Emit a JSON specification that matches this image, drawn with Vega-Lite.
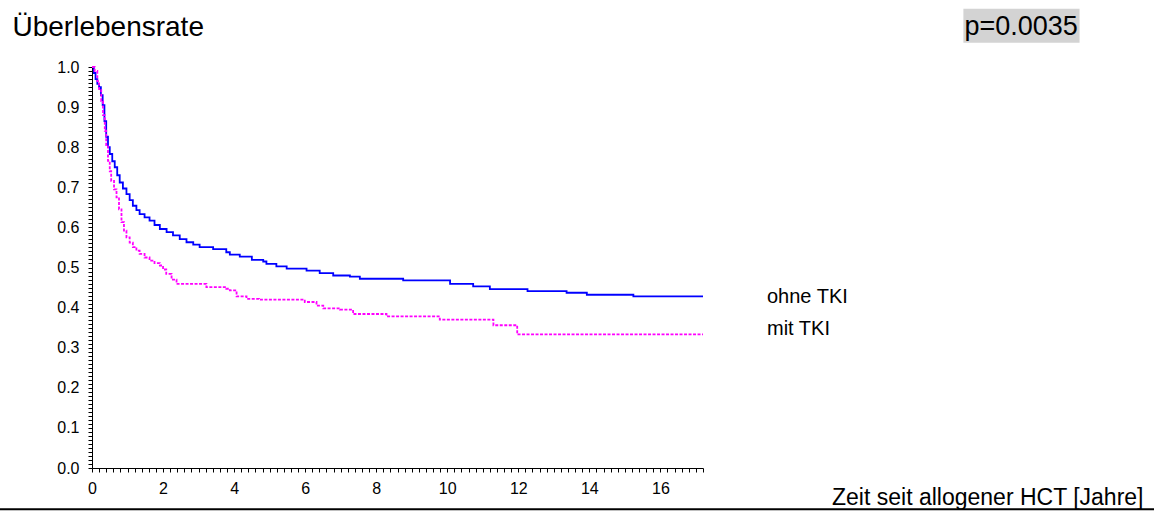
{
  "$schema": "https://vega.github.io/schema/vega-lite/v6.json",
  "width": 611,
  "height": 401,
  "autosize": {"type": "none"},
  "padding": {"left": 92, "top": 67, "right": 451, "bottom": 43},
  "background": "white",
  "config": {
    "font": "Liberation Sans",
    "view": {"stroke": null},
    "axis": {"grid": false, "domainColor": "black", "tickColor": "black", "labelColor": "black", "titleColor": "black", "labelFont": "Liberation Sans", "titleFont": "Liberation Sans", "titleFontWeight": "normal"}
  },
  "datasets": {
    "km": [
      {"g": "ohne TKI", "t": 0, "s": 1.0},
      {"g": "ohne TKI", "t": 0.05, "s": 0.985},
      {"g": "ohne TKI", "t": 0.1, "s": 0.97},
      {"g": "ohne TKI", "t": 0.15, "s": 0.958},
      {"g": "ohne TKI", "t": 0.2, "s": 0.95},
      {"g": "ohne TKI", "t": 0.25, "s": 0.93},
      {"g": "ohne TKI", "t": 0.3, "s": 0.905},
      {"g": "ohne TKI", "t": 0.35, "s": 0.865},
      {"g": "ohne TKI", "t": 0.4, "s": 0.826},
      {"g": "ohne TKI", "t": 0.45, "s": 0.8},
      {"g": "ohne TKI", "t": 0.5, "s": 0.783},
      {"g": "ohne TKI", "t": 0.57, "s": 0.765},
      {"g": "ohne TKI", "t": 0.64, "s": 0.75},
      {"g": "ohne TKI", "t": 0.71, "s": 0.73},
      {"g": "ohne TKI", "t": 0.78, "s": 0.712},
      {"g": "ohne TKI", "t": 0.87, "s": 0.697},
      {"g": "ohne TKI", "t": 0.97, "s": 0.683},
      {"g": "ohne TKI", "t": 1.06, "s": 0.668},
      {"g": "ohne TKI", "t": 1.15, "s": 0.654},
      {"g": "ohne TKI", "t": 1.25, "s": 0.643},
      {"g": "ohne TKI", "t": 1.34, "s": 0.633},
      {"g": "ohne TKI", "t": 1.48, "s": 0.625},
      {"g": "ohne TKI", "t": 1.62, "s": 0.617},
      {"g": "ohne TKI", "t": 1.76, "s": 0.606},
      {"g": "ohne TKI", "t": 1.91, "s": 0.596},
      {"g": "ohne TKI", "t": 2.1, "s": 0.588},
      {"g": "ohne TKI", "t": 2.28, "s": 0.58},
      {"g": "ohne TKI", "t": 2.47, "s": 0.571},
      {"g": "ohne TKI", "t": 2.66, "s": 0.563},
      {"g": "ohne TKI", "t": 2.85, "s": 0.557},
      {"g": "ohne TKI", "t": 3.03, "s": 0.551},
      {"g": "ohne TKI", "t": 3.41, "s": 0.546},
      {"g": "ohne TKI", "t": 3.78, "s": 0.538},
      {"g": "ohne TKI", "t": 3.88, "s": 0.532},
      {"g": "ohne TKI", "t": 4.16, "s": 0.527},
      {"g": "ohne TKI", "t": 4.5, "s": 0.519},
      {"g": "ohne TKI", "t": 4.82, "s": 0.515},
      {"g": "ohne TKI", "t": 4.91, "s": 0.509},
      {"g": "ohne TKI", "t": 5.19, "s": 0.503},
      {"g": "ohne TKI", "t": 5.48, "s": 0.497},
      {"g": "ohne TKI", "t": 6.04, "s": 0.492},
      {"g": "ohne TKI", "t": 6.41, "s": 0.486},
      {"g": "ohne TKI", "t": 6.79, "s": 0.48},
      {"g": "ohne TKI", "t": 7.26, "s": 0.477},
      {"g": "ohne TKI", "t": 7.54, "s": 0.472},
      {"g": "ohne TKI", "t": 8.76, "s": 0.468},
      {"g": "ohne TKI", "t": 10.08, "s": 0.459},
      {"g": "ohne TKI", "t": 10.73, "s": 0.453},
      {"g": "ohne TKI", "t": 11.2, "s": 0.446},
      {"g": "ohne TKI", "t": 12.26, "s": 0.441},
      {"g": "ohne TKI", "t": 13.36, "s": 0.437},
      {"g": "ohne TKI", "t": 13.93, "s": 0.432},
      {"g": "ohne TKI", "t": 15.24, "s": 0.428},
      {"g": "ohne TKI", "t": 17.2, "s": 0.428},
      {"g": "mit TKI", "t": 0, "s": 1.0},
      {"g": "mit TKI", "t": 0.075, "s": 0.99},
      {"g": "mit TKI", "t": 0.15, "s": 0.965},
      {"g": "mit TKI", "t": 0.2, "s": 0.945},
      {"g": "mit TKI", "t": 0.26, "s": 0.915},
      {"g": "mit TKI", "t": 0.31, "s": 0.88},
      {"g": "mit TKI", "t": 0.36, "s": 0.841},
      {"g": "mit TKI", "t": 0.4, "s": 0.805},
      {"g": "mit TKI", "t": 0.45, "s": 0.766},
      {"g": "mit TKI", "t": 0.5, "s": 0.74},
      {"g": "mit TKI", "t": 0.54, "s": 0.716},
      {"g": "mit TKI", "t": 0.62, "s": 0.695},
      {"g": "mit TKI", "t": 0.69, "s": 0.675},
      {"g": "mit TKI", "t": 0.76, "s": 0.645},
      {"g": "mit TKI", "t": 0.83, "s": 0.613},
      {"g": "mit TKI", "t": 0.9, "s": 0.592},
      {"g": "mit TKI", "t": 0.97, "s": 0.575},
      {"g": "mit TKI", "t": 1.06, "s": 0.562},
      {"g": "mit TKI", "t": 1.15, "s": 0.551},
      {"g": "mit TKI", "t": 1.25, "s": 0.542},
      {"g": "mit TKI", "t": 1.34, "s": 0.534},
      {"g": "mit TKI", "t": 1.48, "s": 0.525},
      {"g": "mit TKI", "t": 1.62, "s": 0.517},
      {"g": "mit TKI", "t": 1.76, "s": 0.511},
      {"g": "mit TKI", "t": 1.91, "s": 0.505},
      {"g": "mit TKI", "t": 2.0, "s": 0.495},
      {"g": "mit TKI", "t": 2.09, "s": 0.484},
      {"g": "mit TKI", "t": 2.24, "s": 0.47},
      {"g": "mit TKI", "t": 2.38, "s": 0.459},
      {"g": "mit TKI", "t": 3.22, "s": 0.451},
      {"g": "mit TKI", "t": 3.78, "s": 0.447},
      {"g": "mit TKI", "t": 3.88, "s": 0.443},
      {"g": "mit TKI", "t": 4.07, "s": 0.428},
      {"g": "mit TKI", "t": 4.35, "s": 0.422},
      {"g": "mit TKI", "t": 4.7, "s": 0.42},
      {"g": "mit TKI", "t": 5.99, "s": 0.414},
      {"g": "mit TKI", "t": 6.32, "s": 0.405},
      {"g": "mit TKI", "t": 6.51, "s": 0.398},
      {"g": "mit TKI", "t": 6.98, "s": 0.395},
      {"g": "mit TKI", "t": 7.35, "s": 0.384},
      {"g": "mit TKI", "t": 8.29, "s": 0.378},
      {"g": "mit TKI", "t": 9.79, "s": 0.37},
      {"g": "mit TKI", "t": 11.3, "s": 0.356},
      {"g": "mit TKI", "t": 11.97, "s": 0.333},
      {"g": "mit TKI", "t": 17.2, "s": 0.333}
    ],
    "note": [{"p": "p=0.0035"}]
  },
  "layer": [
    {
      "data": {"name": "km"},
      "mark": {"type": "line", "interpolate": "step-after", "strokeWidth": 1.8},
      "encoding": {
        "x": {
          "field": "t", "type": "quantitative",
          "scale": {"domain": [0, 17.2], "nice": false, "zero": false},
          "axis": {
            "title": "Zeit seit allogener HCT [Jahre]",
            "titleFontSize": 23,
            "titleAlign": "right",
            "titleBaseline": "alphabetic",
            "titleX": 1051,
            "titleY": 36,
            "tickCount": 200,
            "values": [0,0.2,0.4,0.6,0.8,1,1.2,1.4,1.6,1.8,2,2.2,2.4,2.6,2.8,3,3.2,3.4,3.6,3.8,4,4.2,4.4,4.6,4.8,5,5.2,5.4,5.6,5.8,6,6.2,6.4,6.6,6.8,7,7.2,7.4,7.6,7.8,8,8.2,8.4,8.6,8.8,9,9.2,9.4,9.6,9.8,10,10.2,10.4,10.6,10.8,11,11.2,11.4,11.6,11.8,12,12.2,12.4,12.6,12.8,13,13.2,13.4,13.6,13.8,14,14.2,14.4,14.6,14.8,15,15.2,15.4,15.6,15.8,16,16.2,16.4,16.6,16.8,17,17.2],
            "labelExpr": "abs(datum.value/2 - round(datum.value/2)) < 0.001 ? format(datum.value, 'd') : ''",
            "labelOverlap": false,
            "labelBound": false,
            "labelFlush": false,
            "labelFontSize": 16,
            "tickSize": 4,
            "labelPadding": 8,
            "encode": {"ticks": {"update": {"y2": {"signal": "abs(datum.value/2 - round(datum.value/2)) < 0.001 ? 5 : -3"}}}}
          }
        },
        "y": {
          "field": "s", "type": "quantitative",
          "scale": {"domain": [0, 1], "nice": false},
          "axis": {
            "title": "Überlebensrate",
            "titleFontSize": 28,
            "titleAngle": 0,
            "titleAlign": "left",
            "titleBaseline": "alphabetic",
            "titleX": -80,
            "titleY": -31.5,
            "tickCount": 200,
            "values": [0,0.01,0.02,0.03,0.04,0.05,0.06,0.07,0.08,0.09,0.1,0.11,0.12,0.13,0.14,0.15,0.16,0.17,0.18,0.19,0.2,0.21,0.22,0.23,0.24,0.25,0.26,0.27,0.28,0.29,0.3,0.31,0.32,0.33,0.34,0.35,0.36,0.37,0.38,0.39,0.4,0.41,0.42,0.43,0.44,0.45,0.46,0.47,0.48,0.49,0.5,0.51,0.52,0.53,0.54,0.55,0.56,0.57,0.58,0.59,0.6,0.61,0.62,0.63,0.64,0.65,0.66,0.67,0.68,0.69,0.7,0.71,0.72,0.73,0.74,0.75,0.76,0.77,0.78,0.79,0.8,0.81,0.82,0.83,0.84,0.85,0.86,0.87,0.88,0.89,0.9,0.91,0.92,0.93,0.94,0.95,0.96,0.97,0.98,0.99,1],
            "labelExpr": "abs(datum.value*10 - round(datum.value*10)) < 0.001 ? format(datum.value, '.1f') : ''",
            "labelOverlap": false,
            "labelBound": false,
            "labelFlush": false,
            "labelFontSize": 16,
            "tickSize": 4,
            "labelPadding": 9,
            "encode": {"ticks": {"update": {"x2": {"signal": "abs(datum.value*10 - round(datum.value*10)) < 0.001 ? -5 : -2"}}}}
          }
        },
        "color": {
          "field": "g", "type": "nominal",
          "scale": {"domain": ["ohne TKI", "mit TKI"], "range": ["#0000ff", "#ff00ff"]},
          "legend": {
            "title": null,
            "orient": "none",
            "legendX": 655,
            "legendY": 220,
            "direction": "vertical",
            "padding": 0,
            "labelFont": "Liberation Sans",
            "labelFontSize": 20,
            "labelColor": "black",
            "labelOffset": 0,
            "symbolSize": 0,
            "symbolStrokeWidth": 0,
            "symbolOpacity": 0,
            "rowPadding": 12
          }
        },
        "strokeDash": {
          "field": "g", "type": "nominal",
          "scale": {"domain": ["ohne TKI", "mit TKI"], "range": [[1, 0], [3, 1.5]]},
          "legend": null
        }
      }
    },
    {
      "data": {"name": "note"},
      "mark": {"type": "rect", "fill": "#d3d3d3"},
      "encoding": {
        "x": {"datum": 24.53},
        "x2": {"datum": 27.8},
        "y": {"datum": 1.1454},
        "y2": {"datum": 1.0606}
      }
    },
    {
      "data": {"name": "note"},
      "mark": {"type": "text", "align": "right", "baseline": "alphabetic", "fontSize": 27, "font": "Liberation Sans", "color": "black"},
      "encoding": {
        "x": {"datum": 27.75},
        "y": {"datum": 1.0806},
        "text": {"field": "p"}
      }
    },
    {
      "data": {"name": "note"},
      "mark": {"type": "rule", "color": "black", "strokeWidth": 2},
      "encoding": {
        "x": {"datum": -2.61},
        "x2": {"datum": 29.92},
        "y": {"datum": -0.1027}
      }
    }
  ]
}
